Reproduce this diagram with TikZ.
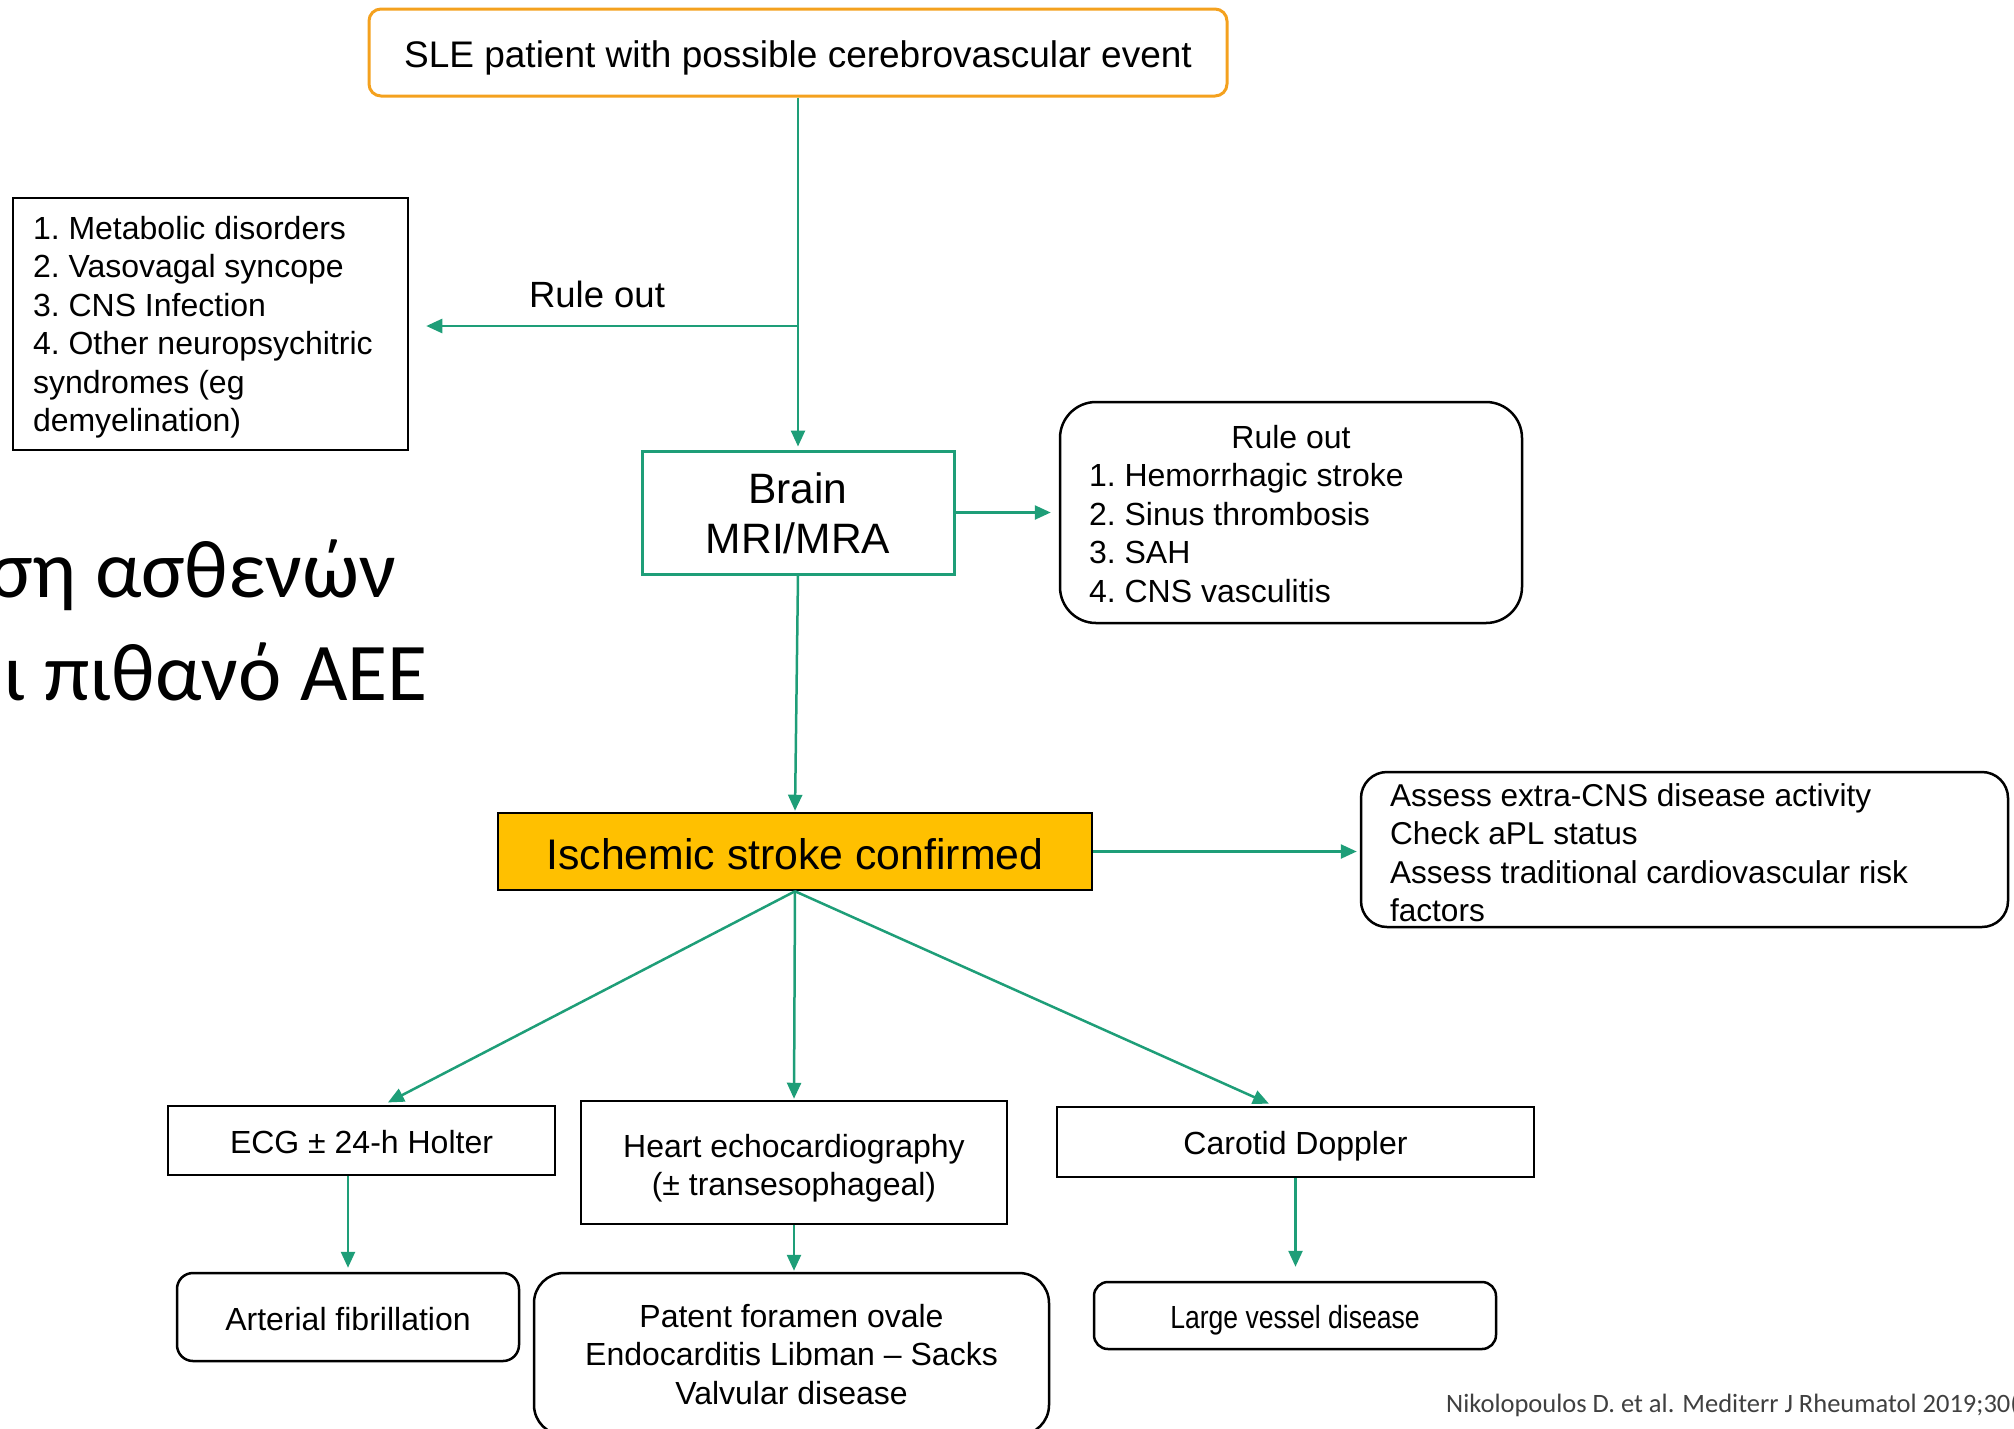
\documentclass[tikz,border=0pt]{standalone}
\usepackage{fontspec}
\usepackage{graphicx}
\setmainfont{Liberation Sans}
\newfontfamily\calib{Carlito}
\usetikzlibrary{arrows.meta}
\definecolor{teal1}{RGB}{30,158,120}
\definecolor{orng}{RGB}{244,161,30}
\definecolor{gold}{RGB}{255,192,0}
\definecolor{citegray}{RGB}{64,64,64}
\newcommand\lefttab[3]{\raisebox{-#1}[\height][\depth]{\begin{tabular}{@{}p{#2}@{}}#3\end{tabular}}}
\newcommand\centtab[2]{\raisebox{-#1}[\height][\depth]{\begin{tabular}{@{}c@{}}#2\end{tabular}}}
\tikzset{
  base/.style={draw=black, line width=2.5pt, inner sep=0pt,
    font=\frenchspacing\fontsize{32}{38.5}\selectfont},
  sharpbox/.style={base},
  roundbox/.style={base, rounded corners=16pt},
  arr/.style={draw=teal1, line width=2.5pt, -{Triangle[length=16pt,width=14pt]}},
}
\begin{document}
\begin{tikzpicture}[x=1pt,y=-1pt]
\useasboundingbox (0,0) rectangle (2014,1428);
% Greek title (cut off at left)
\node[anchor=base east, inner sep=0pt, font=\calib\fontsize{82}{90}\selectfont] (gr1) at (396,597) {ση ασθενών};
\node[anchor=base east, inner sep=0pt, font=\calib\fontsize{82}{90}\selectfont] (gr2) at (428,700) {ι πιθανό ΑΕΕ};
% nodes
\node[roundbox, draw=orng, line width=3pt, rounded corners=12pt, minimum width=858pt, minimum height=87pt,
  text height=30pt, text depth=0pt, font=\fontsize{37}{44}\selectfont] (top) at (798,52.5)
  {SLE patient with possible cerebrovascular event};
\node[sharpbox, minimum width=395pt, minimum height=252pt] (left) at (210.5,324)
  {\lefttab{4pt}{355pt}{1. Metabolic disorders\\2. Vasovagal syncope\\3. CNS Infection\\4. Other neuropsychitric\\syndromes (eg\\demyelination)}};
\node[sharpbox, draw=teal1, line width=3pt, minimum width=312pt, minimum height=123pt,
  font=\fontsize{42.5}{50}\selectfont] (brain) at (798,512.5) {\centtab{5.5pt}{Brain\\MRI/MRA}};
\node[roundbox, rounded corners=36pt, minimum width=462pt, minimum height=221pt] (ro) at (1291,512.5)
  {\lefttab{5pt}{404pt}{\multicolumn{1}{@{}c@{}}{Rule out}\\1. Hemorrhagic stroke\\2. Sinus thrombosis\\3. SAH\\4. CNS vasculitis}};
\node[sharpbox, fill=gold, minimum width=594pt, minimum height=77pt, text height=35pt, text depth=0pt,
  font=\fontsize{42.8}{50}\selectfont] (isch) at (795,851.5) {Ischemic stroke confirmed};
\node[roundbox, rounded corners=26pt, minimum width=647pt, minimum height=155pt,
  font=\frenchspacing\fontsize{31.6}{38.5}\selectfont] (assess) at (1684.5,849.5)
  {\lefttab{7pt}{589pt}{Assess extra-CNS disease activity\\Check aPL status\\Assess traditional cardiovascular risk\\factors}};
\node[sharpbox, minimum width=387pt, minimum height=69pt, text height=26pt, text depth=0pt] (ecg) at (361.5,1140.5)
  {ECG ± 24-h Holter};
\node[sharpbox, minimum width=426pt, minimum height=123pt] (heart) at (794,1162.5)
  {\centtab{6.5pt}{Heart echocardiography\\(± transesophageal)}};
\node[sharpbox, minimum width=477pt, minimum height=70pt, text height=25pt, text depth=0pt] (car) at (1295.5,1142)
  {Carotid Doppler};
\node[roundbox, minimum width=342pt, minimum height=88pt, text height=27pt, text depth=0pt] (af) at (348,1317)
  {Arterial fibrillation};
\node[roundbox, rounded corners=30pt, minimum width=515pt, minimum height=162pt] (pfo) at (791.5,1354)
  {\centtab{4pt}{Patent foramen ovale\\Endocarditis Libman – Sacks\\Valvular disease}};
\node[roundbox, rounded corners=14pt, minimum width=402pt, minimum height=67pt, text height=25pt, text depth=0pt] (lvd) at (1295,1315.5)
  {\scalebox{0.83}[1]{Large vessel disease}};
% citation
\node[anchor=base west, inner sep=0pt, text=citegray, font=\calib\fontsize{26.5}{30}\selectfont] (cite) at (1446,1412)
  {Nikolopoulos D. et al. Mediterr J Rheumatol 2019;30(};
% connectors
\coordinate (br) at (798,326);
\draw[arr, shorten >=3pt] (top.south) -- (brain.north);
\draw[arr, shorten >=17pt] (br) -- (br -| left.east);
\node[inner sep=0pt, font=\fontsize{36.5}{42}\selectfont] (rolab) at (597,294) {Rule out};
\draw[arr, shorten >=8pt] (brain.east) -- (brain.east -| ro.west);
\draw[arr, shorten >=1pt] (brain.south) -- (isch.north);
\draw[arr, shorten >=3pt] (isch.east) -- (isch.east -| assess.west);
\draw[arr, shorten >=5pt] (isch.south) -- ([xshift=22pt]ecg.north);
\draw[arr, shorten >=1pt] (isch.south) -- (heart.north);
\draw[arr, shorten >=5pt] (isch.south) -- ([xshift=-22pt]car.north);
\draw[arr, shorten >=4pt] (ecg.south -| af.north) -- (af.north);
\draw[arr, shorten >=1pt] (heart.south) -- (heart.south |- pfo.north);
\draw[arr, shorten >=14pt] (car.south) -- (car.south |- lvd.north);
\end{tikzpicture}
\end{document}
